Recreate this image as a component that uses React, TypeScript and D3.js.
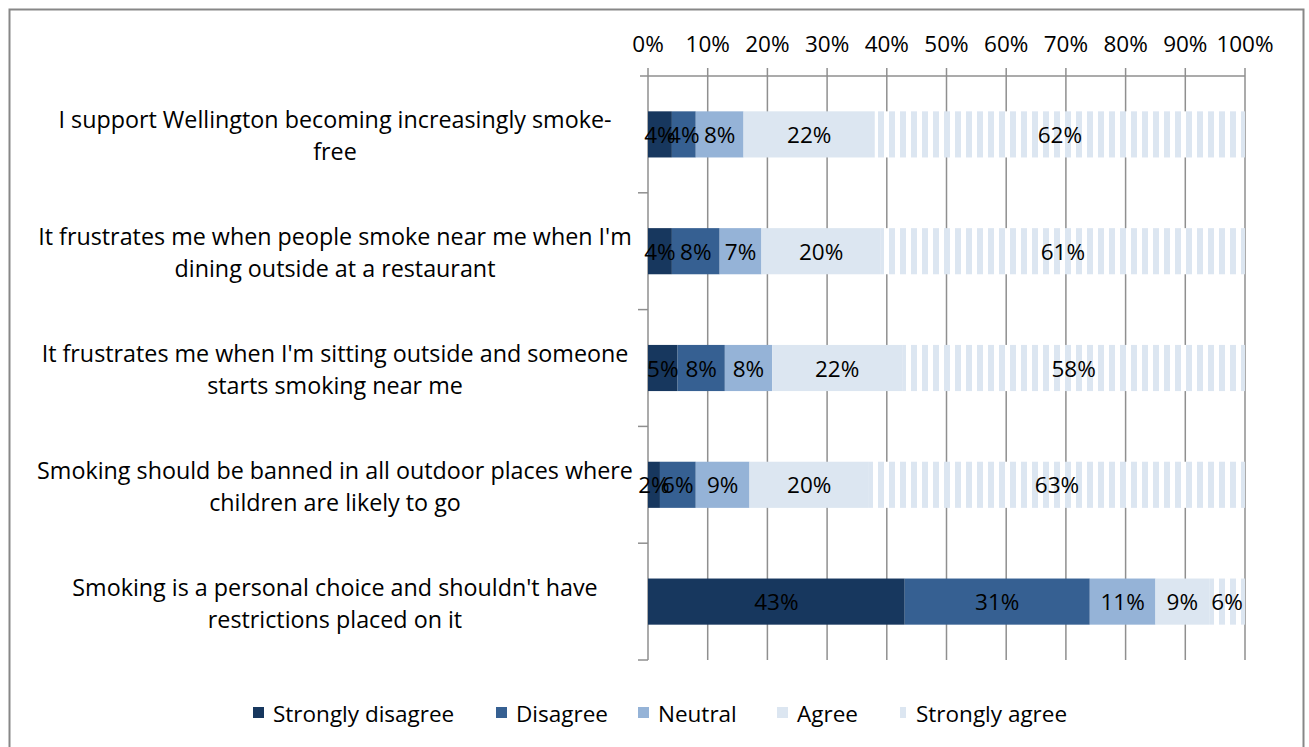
import React from "react";
import * as d3 from "d3";

const categories = [
  "I support Wellington becoming increasingly smoke-free",
  "It frustrates me when people smoke near me when I'm dining outside at a restaurant",
  "It frustrates me when I'm sitting outside and someone starts smoking near me",
  "Smoking should be banned in all outdoor places where children are likely to go",
  "Smoking is a personal choice and shouldn't have restrictions placed on it",
];
const categoryLines = [
  ["I support Wellington becoming increasingly smoke-", "free"],
  ["It frustrates me when people smoke near me when I'm", "dining outside at a restaurant"],
  ["It frustrates me when I'm sitting outside and someone", "starts smoking near me"],
  ["Smoking should be banned in all outdoor places where", "children are likely to go"],
  ["Smoking is a personal choice and shouldn't have", "restrictions placed on it"],
];
const seriesNames = ["Strongly disagree", "Disagree", "Neutral", "Agree", "Strongly agree"];
const stronglyDisagree = [4, 4, 5, 2, 43];
const disagree = [4, 8, 8, 6, 31];
const neutral = [8, 7, 8, 9, 11];
const agree = [22, 20, 22, 20, 9];
const stronglyAgree = [62, 61, 58, 63, 6];
const tickValues = [0, 0.1, 0.2, 0.3, 0.4, 0.5, 0.6, 0.7, 0.8, 0.9, 1];

const seriesValues = [stronglyDisagree, disagree, neutral, agree, stronglyAgree];
const colors = ["#17375E", "#366092", "#95B3D7", "#DCE6F1", "url(#stripes)"];
const legendX = [253, 496, 638, 777, 896];

const FONT = "'Open Sans', sans-serif";
const FS = 22.5;

export default function App() {
  const W = 1309, H = 747;
  const x0 = 648, x1 = 1245, yTop = 76, yBot = 660;
  const x = d3.scaleLinear().domain([0, 1]).range([x0, x1]);
  const y = d3.scaleBand<string>().domain(categories).range([yTop, yBot]).paddingInner(0).paddingOuter(0);
  const barH = y.step() * 0.395;

  const table = categories.map((c, i) => {
    const row: any = { category: c };
    seriesNames.forEach((s, j) => (row[s] = seriesValues[j][i]));
    return row;
  });
  const stacked = d3.stack<any>().keys(seriesNames).offset(d3.stackOffsetExpand)(table);

  const gridColor = "#8f8f8f";

  return (
    <div style={{ position: "fixed", left: 0, top: 0 }}>
      <svg width={W} height={H} style={{ display: "block", background: "#fff" }}>
        <defs>
          <pattern id="stripes" patternUnits="userSpaceOnUse" x={x1 - 4} width={11} height={10}>
            <rect width={11} height={10} fill="#ffffff" />
            <rect x={0} width={6} height={10} fill="#DCE6F1" />
          </pattern>
        </defs>
        <rect x={9.5} y={9.5} width={1294} height={760} fill="none" stroke="#878787" strokeWidth={2} />

        {tickValues.map((t) => (
          <line key={"g" + t} x1={x(t)} x2={x(t)} y1={yTop - 8} y2={yBot} stroke={gridColor} strokeWidth={1.5} />
        ))}
        <line x1={x0 - 8} x2={x1} y1={yTop} y2={yTop} stroke={gridColor} strokeWidth={1.5} />
        {categories.map((c, i) => (
          <line key={"ct" + i} x1={x0 - 10} x2={x0} y1={(y(c) as number) + y.step()} y2={(y(c) as number) + y.step()} stroke={gridColor} strokeWidth={1.5} />
        ))}
        {tickValues.map((t) => (
          <text key={"tl" + t} x={x(t)} y={43} textAnchor="middle" dominantBaseline="central" fontFamily={FONT} fontSize={FS} fill="#000">
            {Math.round(t * 100) + "%"}
          </text>
        ))}

        {stacked.map((s, j) => (
          <g key={s.key}>
            {s.map((d, i) => {
              const cy = (y(categories[i]) as number) + y.step() / 2;
              return (
                <rect key={i} x={x(d[0])} y={cy - barH / 2} width={x(d[1]) - x(d[0])} height={barH} fill={colors[j]} />
              );
            })}
          </g>
        ))}
        {stacked.map((s, j) => (
          <g key={"l" + s.key}>
            {s.map((d, i) => {
              const cy = (y(categories[i]) as number) + y.step() / 2;
              return (
                <text key={i} x={(x(d[0]) + x(d[1])) / 2} y={cy} textAnchor="middle" dominantBaseline="central" fontFamily={FONT} fontSize={FS} fill="#000">
                  {seriesValues[j][i] + "%"}
                </text>
              );
            })}
          </g>
        ))}

        {categoryLines.map((lines, i) => {
          const cy = (y(categories[i]) as number) + y.step() / 2;
          return (
            <text key={"c" + i} textAnchor="middle" fontFamily={FONT} fontSize={23.3} fill="#000">
              {lines.map((ln, k) => (
                <tspan key={k} x={335} y={cy - 15 + k * 32} dominantBaseline="central">
                  {ln}
                </tspan>
              ))}
            </text>
          );
        })}

        {seriesNames.map((s, j) => (
          <g key={"lg" + j}>
            <rect x={legendX[j]} y={707} width={11} height={11} fill={colors[j]} />
            <text x={legendX[j] + 20} y={713} dominantBaseline="central" fontFamily={FONT} fontSize={FS} fill="#000">
              {s}
            </text>
          </g>
        ))}
      </svg>
    </div>
  );
}
